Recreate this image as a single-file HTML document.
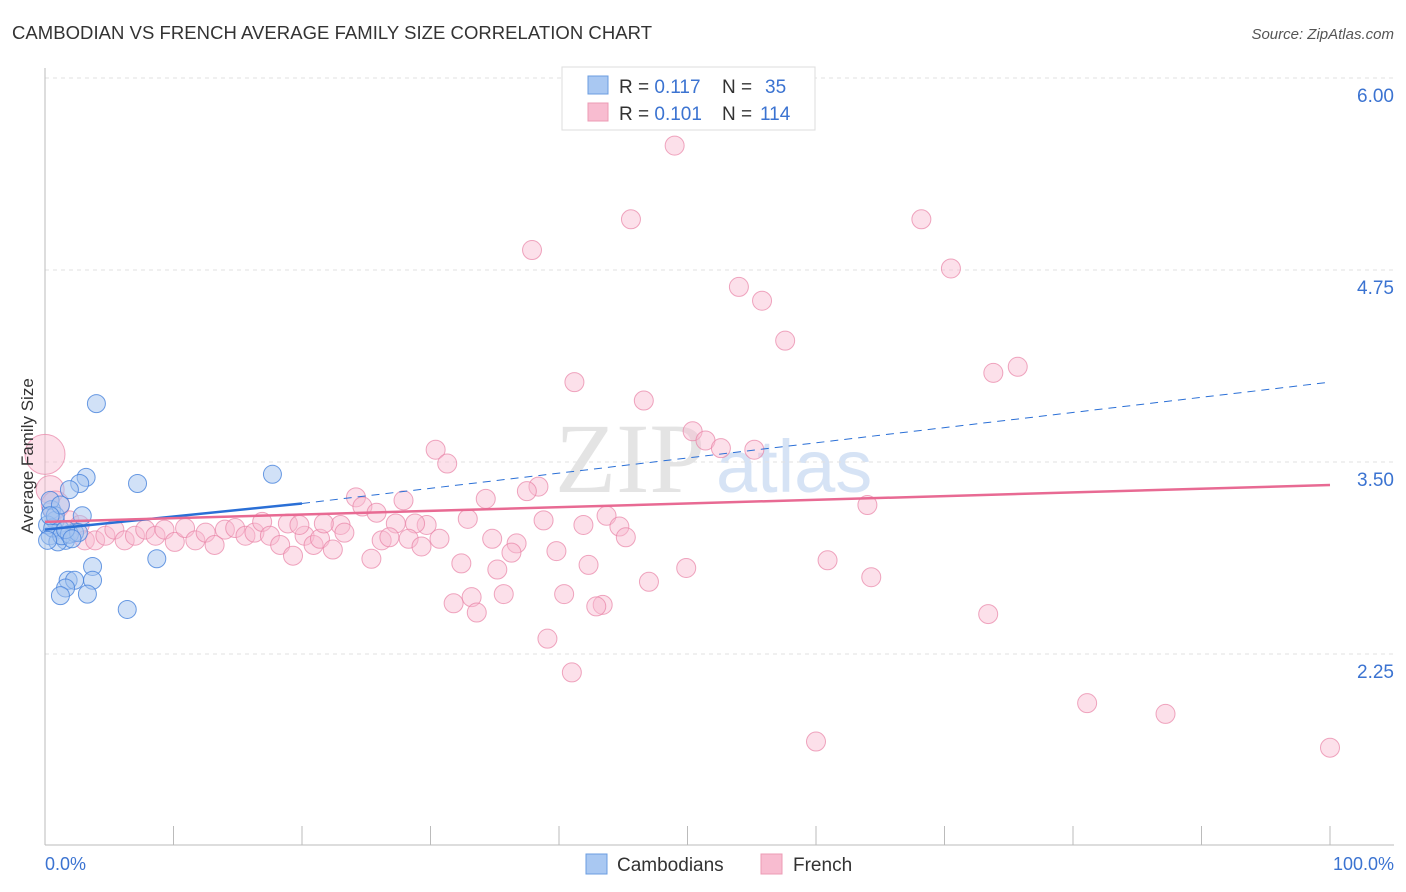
<!DOCTYPE html>
<html><head><meta charset="utf-8"><style>
body{margin:0;background:#fff;font-family:"Liberation Sans",sans-serif;}
svg{display:block}
</style></head><body>
<svg width="1406" height="892" id="c">
<text x="12" y="39" font-size="18.5" fill="#333" textLength="640">CAMBODIAN VS FRENCH AVERAGE FAMILY SIZE CORRELATION CHART</text>
<text x="1394" y="39" font-size="15" fill="#555" font-style="italic" text-anchor="end">Source: ZipAtlas.com</text>
<text x="555" y="492" font-size="100" fill="#e4e4e4" font-family="Liberation Serif">ZIP</text>
<text x="716" y="492" font-size="74" fill="#d6e3f5">atlas</text>
<g id="grid"></g>
<line x1="45" y1="68" x2="45" y2="845" stroke="#bbb"/>
<line x1="45" y1="845" x2="1394" y2="845" stroke="#bbb"/>
<g id="pts"></g>
<g id="lines"></g>
<text x="33" y="456" font-size="17" fill="#333" transform="rotate(-90 33 456)" text-anchor="middle">Average Family Size</text>
<text x="45" y="870" font-size="18" fill="#3b73d1">0.0%</text>
<text x="1394" y="870" font-size="18" fill="#3b73d1" text-anchor="end">100.0%</text>
<g>
<rect x="562" y="67" width="253" height="63" fill="#fff" stroke="#ddd"/>
<rect x="588" y="76" width="20" height="18" fill="#a9c8f2" stroke="#6b9de0"/>
<rect x="588" y="103" width="20" height="18" fill="#f8bcd0" stroke="#ec9bb5"/>
<text x="619" y="93" font-size="19" fill="#333">R = <tspan fill="#3b73d1">0.117</tspan><tspan x="722">N = </tspan><tspan fill="#3b73d1" x="765">35</tspan></text>
<text x="619" y="120" font-size="19" fill="#333">R = <tspan fill="#3b73d1">0.101</tspan><tspan x="722">N = </tspan><tspan fill="#3b73d1" x="760">114</tspan></text>
</g>
<g>
<rect x="586" y="854" width="21" height="20" fill="#a9c8f2" stroke="#6b9de0"/>
<text x="617" y="871" font-size="19" fill="#333">Cambodians</text>
<rect x="761" y="854" width="21" height="20" fill="#f8bcd0" stroke="#ec9bb5"/>
<text x="793" y="871" font-size="19" fill="#333">French</text>
</g>
</svg>
<script>
const yTicks=[6.00,4.75,3.50,2.25];
const xTickPcts=[0,10,20,30,40,50,60,70,80,90,100];
const blueX=[4.0,17.7,7.2,3.2,2.7,1.9,2.9,0.5,0.4,0.8,1.2,0.4,1.6,1.0,2.3,8.7,3.7,1.8,2.3,3.7,1.6,1.2,3.3,6.4,0.2,0.6,1.3,1.9,0.8,0.2,2.6,1.6,2.1,1.2,0.4];
const blueY=[3.88,3.42,3.36,3.40,3.36,3.32,3.15,3.19,3.25,3.12,3.06,3.02,2.99,2.98,3.04,2.87,2.82,2.73,2.73,2.73,2.68,2.63,2.64,2.54,3.09,3.07,3.02,3.03,3.15,2.99,3.04,3.06,3.0,3.22,3.15];
const pinkX=[49.0,45.6,68.2,37.9,70.5,54.0,55.8,57.6,75.7,73.8,41.2,46.6,50.4,51.4,52.6,55.2,30.4,31.3,38.4,37.5,24.2,27.9,34.3,24.7,25.8,43.7,32.9,38.8,64.0,41.9,44.7,29.7,28.8,27.3,45.2,34.8,36.7,36.3,39.8,60.9,32.4,42.3,49.9,35.2,64.3,47.0,35.7,33.2,31.8,40.4,43.4,42.9,33.6,73.4,39.1,41.0,81.1,87.2,60.0,100,
0,0.4,0.8,1.9,2.7,3.1,3.9,4.7,5.4,6.2,7.0,7.8,8.6,9.3,10.1,10.9,11.7,12.5,13.2,14.0,14.8,15.6,16.3,16.9,17.5,18.3,18.9,19.3,20.2,20.9,21.4,22.4,23.0,23.3,25.4,26.2,26.8,28.3,29.3,30.7,21.7,19.8];
const pinkY=[5.56,5.08,5.08,4.88,4.76,4.64,4.55,4.29,4.12,4.08,4.02,3.90,3.70,3.64,3.59,3.58,3.58,3.49,3.34,3.31,3.27,3.25,3.26,3.21,3.17,3.15,3.13,3.12,3.22,3.09,3.08,3.09,3.10,3.10,3.01,3.0,2.97,2.91,2.92,2.86,2.84,2.83,2.81,2.80,2.75,2.72,2.64,2.62,2.58,2.64,2.57,2.56,2.52,2.51,2.35,2.13,1.93,1.86,1.68,1.64,
3.55,3.32,3.22,3.12,3.09,2.99,2.99,3.02,3.06,2.99,3.02,3.06,3.02,3.06,2.98,3.07,2.99,3.04,2.96,3.06,3.07,3.02,3.04,3.11,3.02,2.96,3.10,2.89,3.02,2.96,3.0,2.93,3.09,3.04,2.87,2.99,3.01,3.0,2.95,3.0,3.10,3.09];
const blueTrend=[3.06,3.23,4.02];
const pinkTrend=[3.11,3.35];
const NS='http://www.w3.org/2000/svg';
const xs=p=>45+p/100*1285;
const ys=v=>462-(v-3.5)*153.6;
function mk(t,a,parent){const e=document.createElementNS(NS,t);for(const k in a)e.setAttribute(k,a[k]);parent.appendChild(e);return e;}
const grid=document.getElementById('grid');
yTicks.forEach(v=>{
 const l=mk('line',{x1:45,x2:1394,y1:ys(v),y2:ys(v),stroke:'#e2e2e2','stroke-dasharray':'4,4'},grid);
 
 
 const t=mk('text',{x:1394,y:ys(v)+24,'font-size':19,fill:'#3b73d1','text-anchor':'end'},grid);
 t.textContent=v.toFixed(2);
 
 
});
xTickPcts.forEach(p=>{
 const l=mk('line',{x1:xs(p),x2:xs(p),y1:826,y2:845,stroke:'#bbb'},grid);
 
 
});
const pts=document.getElementById('pts');
pinkX.forEach((p,i)=>{
 const r=(p===0)?20:(p<1?14:9.5);
 const c=mk('circle',{cx:xs(p),cy:ys(pinkY[i]),r:r,fill:'rgba(248,187,208,0.45)',stroke:'rgba(232,130,165,0.7)','stroke-width':1},pts);
 
 
});
blueX.forEach((p,i)=>{
 const c=mk('circle',{cx:xs(p),cy:ys(blueY[i]),r:9,fill:'rgba(164,196,240,0.5)',stroke:'rgba(70,130,220,0.8)','stroke-width':1},pts);
 
 
});
const lines=document.getElementById('lines');
let l1=mk('line',{x1:xs(0),y1:ys(blueTrend[0]),x2:xs(20),y2:ys(blueTrend[1]),stroke:'#2a6fd6','stroke-width':2.5},lines);


let l2=mk('line',{x1:xs(20),y1:ys(blueTrend[1]),x2:xs(100),y2:ys(blueTrend[2]),stroke:'#2a6fd6','stroke-width':1,'stroke-dasharray':'8,6'},lines);


let l3=mk('line',{x1:xs(0),y1:ys(pinkTrend[0]),x2:xs(100),y2:ys(pinkTrend[1]),stroke:'#e86a93','stroke-width':2.5},lines);


</script>
</body></html>
